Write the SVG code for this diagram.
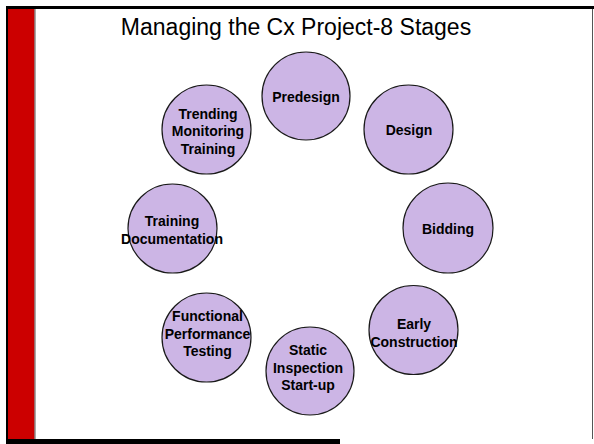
<svg xmlns="http://www.w3.org/2000/svg" width="594" height="444" viewBox="0 0 594 444">
<style>
.n circle{fill:#CCB5E5;stroke:#1a1a1a;stroke-width:1.2}
.n text{font-family:"Liberation Sans",Arial,sans-serif;font-weight:bold;font-size:14px;fill:#000;text-anchor:middle}
.title{font-family:"Liberation Sans",Arial,sans-serif;font-size:23px;fill:#000;text-anchor:middle}
</style>
<rect x="0" y="0" width="594" height="444" fill="#fff"/>
<g id="frame">
<rect x="6" y="6" width="588" height="3" fill="#000"/>
<rect x="6" y="6" width="2" height="438" fill="#000"/>
<rect x="6" y="439" width="334" height="5" fill="#000"/>
<rect x="8" y="9" width="26.5" height="430" fill="#CC0000"/>
<rect x="34.5" y="9" width="1" height="430" fill="#555"/>
<rect x="592" y="9" width="1" height="430" fill="#555"/>
</g>
<text class="title" x="296" y="35">Managing the Cx Project-8 Stages</text>
<g id="connectors"></g>
<g id="predesign" class="n"><circle cx="306" cy="96" r="44"/><text x="306" y="102">Predesign</text></g>
<g id="design" class="n"><circle cx="408.5" cy="129.5" r="44.5"/><text x="409" y="134.5">Design</text></g>
<g id="bidding" class="n"><circle cx="448" cy="228" r="45"/><text x="448" y="234">Bidding</text></g>
<g id="early-construction" class="n"><circle cx="413.5" cy="330" r="44.5"/><text x="414" y="328.5">Early</text><text x="414" y="346.5">Construction</text></g>
<g id="static-inspection" class="n"><circle cx="310" cy="371" r="44"/><text x="308" y="355">Static</text><text x="308" y="372.5">Inspection</text><text x="308" y="390">Start-up</text></g>
<g id="functional-testing" class="n"><circle cx="206.5" cy="337.5" r="44.5"/><text x="207.5" y="321">Functional</text><text x="207.5" y="338.5">Performance</text><text x="207.5" y="356">Testing</text></g>
<g id="training-documentation" class="n"><circle cx="172.5" cy="228.5" r="44.5"/><text x="172" y="225.5">Training</text><text x="172" y="243.5">Documentation</text></g>
<g id="trending" class="n"><circle cx="206.5" cy="129.5" r="44.5"/><text x="208" y="118.5">Trending</text><text x="208" y="136">Monitoring</text><text x="208" y="153.5">Training</text></g>
</svg>
